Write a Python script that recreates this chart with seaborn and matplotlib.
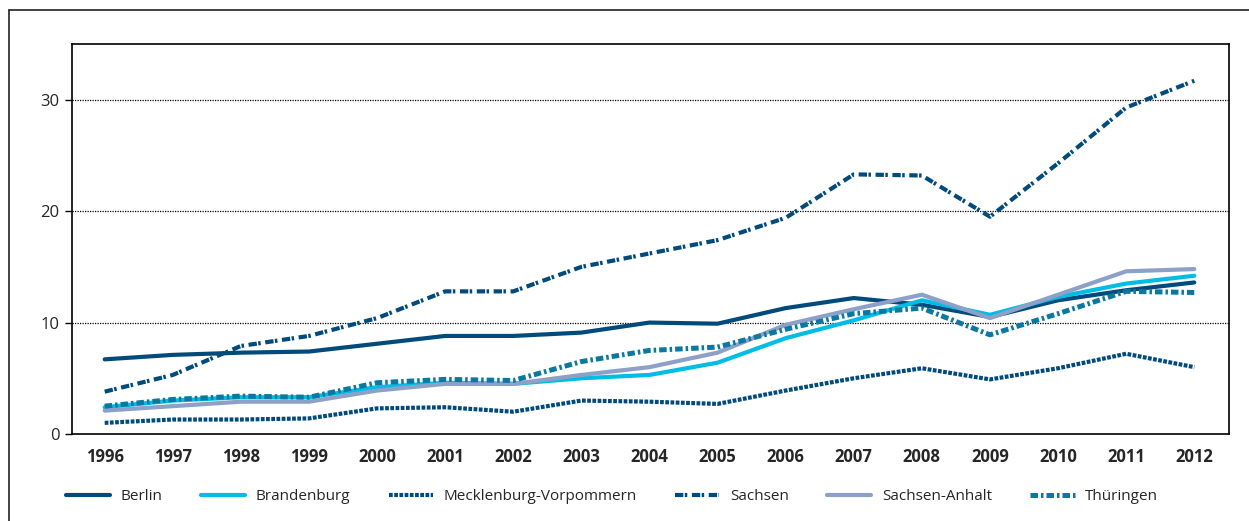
import pandas as pd
import matplotlib.pyplot as plt
import seaborn as sns
from matplotlib.lines import Line2D

# Daten
years = list(range(1996, 2013))
berlin = [6.7, 7.1, 7.3, 7.4, 8.1, 8.8, 8.8, 9.1, 10.0, 9.9, 11.3, 12.2, 11.6, 10.5, 12.0, 12.9, 13.6]
brandenburg = [2.4, 3.0, 3.3, 3.3, 4.2, 4.6, 4.5, 5.0, 5.3, 6.4, 8.6, 10.2, 12.0, 10.7, 12.3, 13.5, 14.2]
mecklenburg = [1.0, 1.3, 1.3, 1.4, 2.3, 2.4, 2.0, 3.0, 2.9, 2.7, 3.9, 5.0, 5.9, 4.9, 5.9, 7.2, 6.0]
sachsen = [3.8, 5.3, 7.9, 8.8, 10.4, 12.8, 12.8, 15.0, 16.2, 17.4, 19.4, 23.3, 23.2, 19.5, 24.3, 29.3, 31.7]
sachsen_anhalt = [2.1, 2.5, 2.9, 2.9, 3.9, 4.5, 4.5, 5.3, 6.0, 7.3, 9.8, 11.2, 12.5, 10.4, 12.5, 14.6, 14.8]
thueringen = [2.5, 3.1, 3.4, 3.3, 4.6, 4.9, 4.8, 6.5, 7.5, 7.8, 9.4, 10.8, 11.3, 8.9, 10.8, 12.8, 12.7]

states = ["Berlin", "Brandenburg", "Mecklenburg-Vorpommern", "Sachsen", "Sachsen-Anhalt", "Thüringen"]
series = [berlin, brandenburg, mecklenburg, sachsen, sachsen_anhalt, thueringen]

df = pd.DataFrame([
    {"Jahr": y, "Wert": v, "Land": s}
    for s, vals in zip(states, series) for y, v in zip(years, vals)
])

colors = {
    "Berlin": "#004b7c",
    "Brandenburg": "#00bde6",
    "Mecklenburg-Vorpommern": "#004b7c",
    "Sachsen": "#004b7c",
    "Sachsen-Anhalt": "#8ca0c8",
    "Thüringen": "#0a78a0",
}
# Strichmuster in Einheiten der Linienbreite
dashes = {
    "Berlin": "",
    "Brandenburg": "",
    "Mecklenburg-Vorpommern": (0.9, 0.35),
    "Sachsen": (2.0, 0.35, 0.6, 1.1),
    "Sachsen-Anhalt": "",
    "Thüringen": (1.5, 0.6, 0.5, 0.6),
}
widths = {"Thüringen": 3.6}

sns.set_theme(style="white")
plt.rcParams['font.family'] = ['Open Sans', 'DejaVu Sans']

fig = plt.figure(figsize=(12.49, 5.21), dpi=100)
ax = fig.add_axes([72 / 1249, 87 / 521, (1229 - 72) / 1249, (434 - 44) / 521])

sns.lineplot(data=df, x="Jahr", y="Wert", hue="Land", style="Land",
             palette=colors, dashes=dashes, hue_order=states, style_order=states,
             linewidth=3, legend=False, ax=ax)

for line, s in zip(ax.lines, states):
    line.set_solid_joinstyle("round")
    line.set_dash_capstyle("butt")
    if s in widths:
        line.set_linewidth(widths[s])

ax.set_xlim(1995.52, 2012.51)
ax.set_ylim(0, 35)
ax.set_xticks(years)
ax.set_xticklabels([str(y) for y in years], fontsize=12, fontweight="bold")
ax.set_yticks([0, 10, 20, 30])
ax.set_yticklabels(["0", "10", "20", "30"], fontsize=12)
ax.tick_params(axis="x", length=0, pad=10)
ax.tick_params(axis="y", length=5, width=1, color="black", direction="out", pad=4, left=True)
ax.set_xlabel("")
ax.set_ylabel("")
for sp in ax.spines.values():
    sp.set_color("black")
    sp.set_linewidth(1.2)
for yv in [10, 20, 30]:
    ax.axhline(yv, color="black", linestyle=(0, (1, 1)), linewidth=0.9, zorder=0)

# Legende unten
handles = [
    Line2D([], [], color=colors[s], linewidth=widths.get(s, 3),
           linestyle="-" if dashes[s] == "" else (0, dashes[s]))
    for s in states
]
fig.legend(handles, states, loc="center", bbox_to_anchor=(0.49, 24 / 521), ncol=6,
           frameon=False, fontsize=11, handlelength=2.9, columnspacing=2.5, handletextpad=0.7)

# äußerer Rahmen
fig.add_artist(Line2D([9 / 1249, 9 / 1249], [0, 1 - 10 / 521], color="#222222", linewidth=1.2,
                      transform=fig.transFigure))
fig.add_artist(Line2D([9 / 1249, 1], [1 - 10 / 521, 1 - 10 / 521], color="#222222", linewidth=1.2,
                      transform=fig.transFigure))

plt.savefig("out.png", dpi=100)
